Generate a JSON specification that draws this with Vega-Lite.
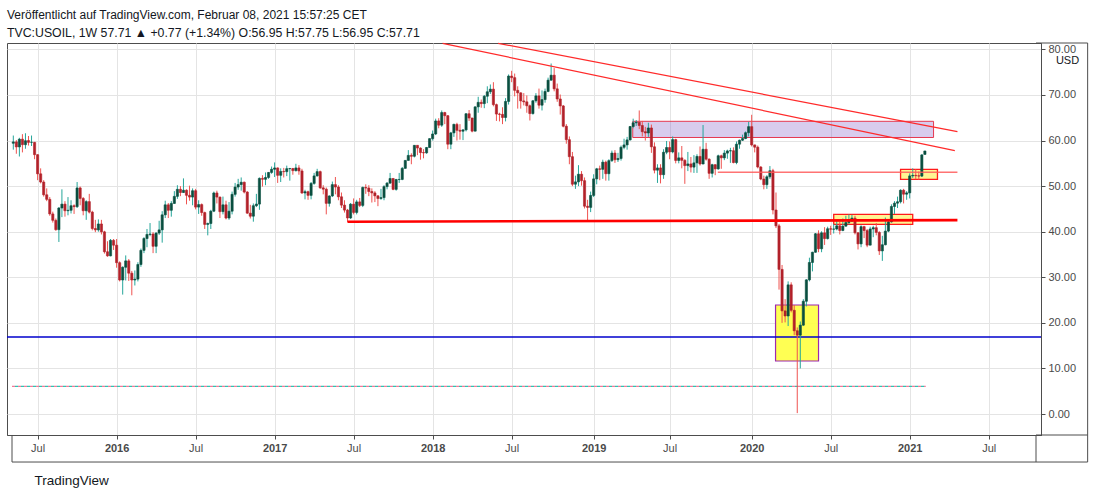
{
"$schema":"https://vega.github.io/schema/vega-lite/v6.json",
"width":1034,"height":392,
"autosize":"none",
"padding":{"left":7,"top":43,"right":59,"bottom":64},
"background":"white",
"config":{"view":{"stroke":"#4d4d4d","strokeWidth":1},"font":"Liberation Sans"},
"title":{"text":"Veröffentlicht auf TradingView.com, Februar 08, 2021 15:57:25 CET","subtitle":"TVC:USOIL, 1W 57.71 ▲ +0.77 (+1.34%) O:56.95 H:57.75 L:56.95 C:57.71","anchor":"start","frame":"group","font":"Liberation Sans","fontSize":12,"fontWeight":"normal","color":"#131722","subtitleFont":"Liberation Sans","subtitleFontSize":12.3,"subtitleColor":"#131722","offset":2,"subtitlePadding":5},
"datasets":{
"candles":[
{"d":"2015-05-11","o":59.4,"h":61.1,"l":58.0,"c":59.7},
{"d":"2015-05-18","o":59.7,"h":60.1,"l":57.1,"c":58.6},
{"d":"2015-05-25","o":58.6,"h":60.6,"l":56.5,"c":60.3},
{"d":"2015-06-01","o":60.3,"h":61.4,"l":57.4,"c":59.1},
{"d":"2015-06-08","o":59.1,"h":61.6,"l":58.2,"c":59.96},
{"d":"2015-06-15","o":60.0,"h":61.0,"l":58.9,"c":59.6},
{"d":"2015-06-22","o":59.6,"h":61.1,"l":58.8,"c":59.6},
{"d":"2015-06-29","o":59.6,"h":59.7,"l":55.9,"c":56.9},
{"d":"2015-07-06","o":56.9,"h":57.0,"l":51.3,"c":52.7},
{"d":"2015-07-13","o":52.7,"h":53.9,"l":50.6,"c":50.9},
{"d":"2015-07-20","o":50.9,"h":51.3,"l":47.7,"c":48.1},
{"d":"2015-07-27","o":48.1,"h":49.5,"l":46.7,"c":47.1},
{"d":"2015-08-03","o":47.1,"h":47.6,"l":43.5,"c":43.9},
{"d":"2015-08-10","o":43.9,"h":44.4,"l":42.0,"c":42.5},
{"d":"2015-08-17","o":42.5,"h":42.9,"l":40.2,"c":40.45},
{"d":"2015-08-24","o":40.45,"h":45.4,"l":37.75,"c":45.2},
{"d":"2015-08-31","o":45.2,"h":49.3,"l":43.2,"c":46.05},
{"d":"2015-09-07","o":46.05,"h":46.7,"l":43.3,"c":44.6},
{"d":"2015-09-14","o":44.6,"h":47.6,"l":43.6,"c":44.7},
{"d":"2015-09-21","o":44.7,"h":46.9,"l":44.0,"c":45.7},
{"d":"2015-09-28","o":45.7,"h":46.0,"l":43.9,"c":45.5},
{"d":"2015-10-05","o":45.5,"h":50.9,"l":45.2,"c":49.6},
{"d":"2015-10-12","o":49.6,"h":49.9,"l":45.8,"c":47.3},
{"d":"2015-10-19","o":47.3,"h":47.6,"l":43.6,"c":44.6},
{"d":"2015-10-26","o":44.6,"h":46.9,"l":42.6,"c":46.6},
{"d":"2015-11-02","o":46.6,"h":48.3,"l":44.0,"c":44.3},
{"d":"2015-11-09","o":44.3,"h":44.6,"l":40.3,"c":40.7},
{"d":"2015-11-16","o":40.7,"h":42.6,"l":39.9,"c":40.4},
{"d":"2015-11-23","o":40.4,"h":42.7,"l":40.0,"c":41.7},
{"d":"2015-11-30","o":41.7,"h":42.6,"l":39.4,"c":39.97},
{"d":"2015-12-07","o":39.97,"h":40.2,"l":35.2,"c":35.6},
{"d":"2015-12-14","o":35.6,"h":37.9,"l":34.5,"c":34.7},
{"d":"2015-12-21","o":34.7,"h":38.4,"l":34.6,"c":38.1},
{"d":"2015-12-28","o":38.1,"h":38.4,"l":36.0,"c":37.04},
{"d":"2016-01-04","o":37.04,"h":38.4,"l":32.1,"c":33.2},
{"d":"2016-01-11","o":33.2,"h":33.5,"l":29.1,"c":29.4},
{"d":"2016-01-18","o":29.4,"h":32.4,"l":26.2,"c":32.2},
{"d":"2016-01-25","o":32.2,"h":34.8,"l":29.3,"c":33.6},
{"d":"2016-02-01","o":33.6,"h":34.0,"l":29.2,"c":30.9},
{"d":"2016-02-08","o":30.9,"h":31.4,"l":26.05,"c":29.4},
{"d":"2016-02-15","o":29.4,"h":31.5,"l":28.2,"c":29.6},
{"d":"2016-02-22","o":29.6,"h":33.3,"l":29.1,"c":32.8},
{"d":"2016-02-29","o":32.8,"h":36.3,"l":32.3,"c":35.9},
{"d":"2016-03-07","o":35.9,"h":38.8,"l":35.3,"c":38.5},
{"d":"2016-03-14","o":38.5,"h":40.6,"l":36.6,"c":39.4},
{"d":"2016-03-21","o":39.4,"h":41.9,"l":39.0,"c":39.5},
{"d":"2016-03-28","o":39.5,"h":39.9,"l":35.3,"c":36.8},
{"d":"2016-04-04","o":36.8,"h":39.9,"l":35.3,"c":39.7},
{"d":"2016-04-11","o":39.7,"h":42.4,"l":39.3,"c":40.4},
{"d":"2016-04-18","o":40.4,"h":44.5,"l":37.6,"c":43.7},
{"d":"2016-04-25","o":43.7,"h":46.8,"l":43.0,"c":45.9},
{"d":"2016-05-02","o":45.9,"h":46.3,"l":43.0,"c":44.7},
{"d":"2016-05-09","o":44.7,"h":46.7,"l":43.3,"c":46.2},
{"d":"2016-05-16","o":46.2,"h":48.9,"l":46.1,"c":47.75},
{"d":"2016-05-23","o":47.75,"h":50.2,"l":47.2,"c":49.3},
{"d":"2016-05-30","o":49.3,"h":50.0,"l":47.8,"c":48.6},
{"d":"2016-06-06","o":48.6,"h":51.7,"l":48.5,"c":49.1},
{"d":"2016-06-13","o":49.1,"h":49.3,"l":46.0,"c":47.98},
{"d":"2016-06-20","o":47.98,"h":50.1,"l":46.8,"c":47.6},
{"d":"2016-06-27","o":47.6,"h":49.5,"l":45.8,"c":48.99},
{"d":"2016-07-04","o":48.99,"h":49.4,"l":44.9,"c":45.4},
{"d":"2016-07-11","o":45.4,"h":46.9,"l":43.9,"c":45.95},
{"d":"2016-07-18","o":45.95,"h":46.2,"l":43.5,"c":44.2},
{"d":"2016-07-25","o":44.2,"h":44.4,"l":40.6,"c":41.6},
{"d":"2016-08-01","o":41.6,"h":42.0,"l":39.2,"c":41.8},
{"d":"2016-08-08","o":41.8,"h":44.8,"l":40.6,"c":44.5},
{"d":"2016-08-15","o":44.5,"h":48.8,"l":44.3,"c":48.5},
{"d":"2016-08-22","o":48.5,"h":49.0,"l":46.2,"c":47.6},
{"d":"2016-08-29","o":47.6,"h":47.7,"l":43.0,"c":44.4},
{"d":"2016-09-05","o":44.4,"h":47.7,"l":43.8,"c":45.9},
{"d":"2016-09-12","o":45.9,"h":46.8,"l":42.7,"c":43.0},
{"d":"2016-09-19","o":43.0,"h":46.5,"l":42.6,"c":44.5},
{"d":"2016-09-26","o":44.5,"h":48.8,"l":43.8,"c":48.2},
{"d":"2016-10-03","o":48.2,"h":50.7,"l":47.7,"c":49.8},
{"d":"2016-10-10","o":49.8,"h":51.6,"l":49.2,"c":50.35},
{"d":"2016-10-17","o":50.35,"h":51.9,"l":49.0,"c":50.85},
{"d":"2016-10-24","o":50.85,"h":51.0,"l":48.4,"c":48.7},
{"d":"2016-10-31","o":48.7,"h":48.9,"l":43.9,"c":44.07},
{"d":"2016-11-07","o":44.07,"h":45.9,"l":42.9,"c":43.4},
{"d":"2016-11-14","o":43.4,"h":46.2,"l":42.2,"c":45.7},
{"d":"2016-11-21","o":45.7,"h":48.3,"l":45.4,"c":46.06},
{"d":"2016-11-28","o":46.06,"h":51.9,"l":44.8,"c":51.7},
{"d":"2016-12-05","o":51.7,"h":52.4,"l":49.9,"c":51.5},
{"d":"2016-12-12","o":51.5,"h":53.0,"l":50.2,"c":51.9},
{"d":"2016-12-19","o":51.9,"h":53.1,"l":51.6,"c":53.0},
{"d":"2016-12-26","o":53.0,"h":54.3,"l":52.7,"c":53.7},
{"d":"2017-01-02","o":53.7,"h":55.2,"l":52.0,"c":53.99},
{"d":"2017-01-09","o":53.99,"h":54.1,"l":50.7,"c":52.37},
{"d":"2017-01-16","o":52.37,"h":53.9,"l":50.9,"c":53.22},
{"d":"2017-01-23","o":53.22,"h":54.0,"l":51.9,"c":53.17},
{"d":"2017-01-30","o":53.17,"h":54.5,"l":52.2,"c":53.83},
{"d":"2017-02-06","o":53.83,"h":54.0,"l":51.2,"c":53.86},
{"d":"2017-02-13","o":53.86,"h":54.0,"l":52.5,"c":53.4},
{"d":"2017-02-20","o":53.4,"h":54.9,"l":53.2,"c":53.99},
{"d":"2017-02-27","o":53.99,"h":54.6,"l":52.5,"c":53.33},
{"d":"2017-03-06","o":53.33,"h":53.8,"l":48.3,"c":48.49},
{"d":"2017-03-13","o":48.49,"h":49.2,"l":47.1,"c":48.78},
{"d":"2017-03-20","o":48.78,"h":49.0,"l":47.0,"c":47.97},
{"d":"2017-03-27","o":47.97,"h":50.9,"l":47.1,"c":50.6},
{"d":"2017-04-03","o":50.6,"h":52.9,"l":50.3,"c":52.24},
{"d":"2017-04-10","o":52.24,"h":53.8,"l":52.1,"c":53.18},
{"d":"2017-04-17","o":53.18,"h":53.4,"l":49.4,"c":49.62},
{"d":"2017-04-24","o":49.62,"h":50.2,"l":48.2,"c":49.33},
{"d":"2017-05-01","o":49.33,"h":49.7,"l":43.8,"c":46.22},
{"d":"2017-05-08","o":46.22,"h":48.0,"l":45.5,"c":47.84},
{"d":"2017-05-15","o":47.84,"h":51.0,"l":47.6,"c":50.33},
{"d":"2017-05-22","o":50.33,"h":52.0,"l":48.2,"c":49.8},
{"d":"2017-05-29","o":49.8,"h":50.2,"l":46.9,"c":47.66},
{"d":"2017-06-05","o":47.66,"h":48.6,"l":45.2,"c":45.83},
{"d":"2017-06-12","o":45.83,"h":46.9,"l":44.2,"c":44.74},
{"d":"2017-06-19","o":44.74,"h":45.0,"l":42.1,"c":43.01},
{"d":"2017-06-26","o":43.01,"h":46.3,"l":42.8,"c":46.04},
{"d":"2017-07-03","o":46.04,"h":47.3,"l":43.8,"c":44.23},
{"d":"2017-07-10","o":44.23,"h":47.0,"l":43.8,"c":46.54},
{"d":"2017-07-17","o":46.54,"h":47.4,"l":45.4,"c":45.77},
{"d":"2017-07-24","o":45.77,"h":49.9,"l":45.4,"c":49.71},
{"d":"2017-07-31","o":49.71,"h":50.4,"l":48.3,"c":49.58},
{"d":"2017-08-07","o":49.58,"h":50.2,"l":47.8,"c":48.82},
{"d":"2017-08-14","o":48.82,"h":49.5,"l":46.4,"c":48.51},
{"d":"2017-08-21","o":48.51,"h":48.9,"l":46.5,"c":47.87},
{"d":"2017-08-28","o":47.87,"h":48.0,"l":45.6,"c":47.29},
{"d":"2017-09-04","o":47.29,"h":49.4,"l":47.0,"c":47.48},
{"d":"2017-09-11","o":47.48,"h":50.2,"l":46.9,"c":49.89},
{"d":"2017-09-18","o":49.89,"h":50.9,"l":49.3,"c":50.66},
{"d":"2017-09-25","o":50.66,"h":52.9,"l":50.5,"c":51.67},
{"d":"2017-10-02","o":51.67,"h":51.8,"l":49.1,"c":49.29},
{"d":"2017-10-09","o":49.29,"h":51.6,"l":49.0,"c":51.45},
{"d":"2017-10-16","o":51.45,"h":52.9,"l":50.7,"c":51.47},
{"d":"2017-10-23","o":51.47,"h":54.2,"l":51.3,"c":53.9},
{"d":"2017-10-30","o":53.9,"h":55.7,"l":53.8,"c":55.64},
{"d":"2017-11-06","o":55.64,"h":57.9,"l":55.6,"c":56.74},
{"d":"2017-11-13","o":56.74,"h":57.2,"l":54.8,"c":56.55},
{"d":"2017-11-20","o":56.55,"h":59.0,"l":56.3,"c":58.95},
{"d":"2017-11-27","o":58.95,"h":59.0,"l":56.8,"c":58.36},
{"d":"2017-12-04","o":58.36,"h":58.5,"l":55.8,"c":57.36},
{"d":"2017-12-11","o":57.36,"h":58.1,"l":56.1,"c":57.3},
{"d":"2017-12-18","o":57.3,"h":58.6,"l":57.1,"c":58.47},
{"d":"2017-12-25","o":58.47,"h":60.5,"l":58.4,"c":60.42},
{"d":"2018-01-01","o":60.42,"h":62.2,"l":60.0,"c":61.44},
{"d":"2018-01-08","o":61.44,"h":64.8,"l":61.2,"c":64.3},
{"d":"2018-01-15","o":64.3,"h":64.9,"l":62.7,"c":63.37},
{"d":"2018-01-22","o":63.37,"h":66.6,"l":63.0,"c":66.14},
{"d":"2018-01-29","o":66.14,"h":66.3,"l":63.6,"c":65.45},
{"d":"2018-02-05","o":65.45,"h":65.6,"l":58.1,"c":59.2},
{"d":"2018-02-12","o":59.2,"h":61.9,"l":58.1,"c":61.68},
{"d":"2018-02-19","o":61.68,"h":63.7,"l":60.8,"c":63.55},
{"d":"2018-02-26","o":63.55,"h":63.9,"l":60.0,"c":62.25},
{"d":"2018-03-05","o":62.25,"h":63.6,"l":60.2,"c":62.04},
{"d":"2018-03-12","o":62.04,"h":62.5,"l":60.1,"c":62.34},
{"d":"2018-03-19","o":62.34,"h":66.0,"l":62.0,"c":65.88},
{"d":"2018-03-26","o":65.88,"h":66.7,"l":64.3,"c":64.94},
{"d":"2018-04-02","o":64.94,"h":65.0,"l":61.8,"c":62.06},
{"d":"2018-04-09","o":62.06,"h":67.5,"l":62.0,"c":67.39},
{"d":"2018-04-16","o":67.39,"h":69.6,"l":66.1,"c":68.38},
{"d":"2018-04-23","o":68.38,"h":69.0,"l":67.2,"c":68.1},
{"d":"2018-04-30","o":68.1,"h":70.0,"l":67.1,"c":69.72},
{"d":"2018-05-07","o":69.72,"h":71.9,"l":68.2,"c":70.7},
{"d":"2018-05-14","o":70.7,"h":72.3,"l":70.2,"c":71.28},
{"d":"2018-05-21","o":71.28,"h":72.8,"l":67.5,"c":67.88},
{"d":"2018-05-28","o":67.88,"h":68.1,"l":64.3,"c":65.81},
{"d":"2018-06-04","o":65.81,"h":66.1,"l":64.2,"c":65.74},
{"d":"2018-06-11","o":65.74,"h":67.3,"l":63.6,"c":65.06},
{"d":"2018-06-18","o":65.06,"h":69.3,"l":64.2,"c":68.58},
{"d":"2018-06-25","o":68.58,"h":74.5,"l":67.9,"c":74.15},
{"d":"2018-07-02","o":74.15,"h":75.3,"l":72.8,"c":73.8},
{"d":"2018-07-09","o":73.8,"h":74.7,"l":69.7,"c":71.01},
{"d":"2018-07-16","o":71.01,"h":71.9,"l":67.0,"c":70.46},
{"d":"2018-07-23","o":70.46,"h":70.6,"l":67.0,"c":68.69},
{"d":"2018-07-30","o":68.69,"h":70.4,"l":67.7,"c":68.49},
{"d":"2018-08-06","o":68.49,"h":69.9,"l":66.1,"c":67.63},
{"d":"2018-08-13","o":67.63,"h":67.9,"l":64.4,"c":65.91},
{"d":"2018-08-20","o":65.91,"h":68.9,"l":65.7,"c":68.72},
{"d":"2018-08-27","o":68.72,"h":70.4,"l":68.3,"c":69.8},
{"d":"2018-09-03","o":69.8,"h":71.4,"l":67.0,"c":67.75},
{"d":"2018-09-10","o":67.75,"h":71.0,"l":66.6,"c":68.99},
{"d":"2018-09-17","o":68.99,"h":71.4,"l":68.3,"c":70.78},
{"d":"2018-09-24","o":70.78,"h":73.8,"l":70.6,"c":73.25},
{"d":"2018-10-01","o":73.25,"h":76.9,"l":73.1,"c":74.34},
{"d":"2018-10-08","o":74.34,"h":75.9,"l":70.8,"c":71.34},
{"d":"2018-10-15","o":71.34,"h":72.5,"l":68.5,"c":69.12},
{"d":"2018-10-22","o":69.12,"h":70.1,"l":65.7,"c":67.59},
{"d":"2018-10-29","o":67.59,"h":67.8,"l":62.9,"c":63.14},
{"d":"2018-11-05","o":63.14,"h":63.6,"l":59.3,"c":60.19},
{"d":"2018-11-12","o":60.19,"h":60.9,"l":54.8,"c":56.46},
{"d":"2018-11-19","o":56.46,"h":57.5,"l":50.0,"c":50.42},
{"d":"2018-11-26","o":50.42,"h":52.3,"l":49.4,"c":50.93},
{"d":"2018-12-03","o":50.93,"h":54.6,"l":50.0,"c":52.61},
{"d":"2018-12-10","o":52.61,"h":53.3,"l":50.1,"c":51.2},
{"d":"2018-12-17","o":51.2,"h":51.9,"l":45.1,"c":45.59},
{"d":"2018-12-24","o":45.59,"h":47.0,"l":42.36,"c":45.33},
{"d":"2018-12-31","o":45.33,"h":48.8,"l":44.3,"c":47.96},
{"d":"2019-01-07","o":47.96,"h":52.6,"l":47.6,"c":51.59},
{"d":"2019-01-14","o":51.59,"h":54.0,"l":50.4,"c":53.8},
{"d":"2019-01-21","o":53.8,"h":54.5,"l":51.3,"c":53.69},
{"d":"2019-01-28","o":53.69,"h":55.8,"l":51.6,"c":55.26},
{"d":"2019-02-04","o":55.26,"h":55.6,"l":51.2,"c":52.72},
{"d":"2019-02-11","o":52.72,"h":55.9,"l":51.2,"c":55.59},
{"d":"2019-02-18","o":55.59,"h":57.8,"l":55.3,"c":57.26},
{"d":"2019-02-25","o":57.26,"h":57.9,"l":55.1,"c":55.8},
{"d":"2019-03-04","o":55.8,"h":57.3,"l":55.3,"c":56.07},
{"d":"2019-03-11","o":56.07,"h":58.9,"l":55.6,"c":58.52},
{"d":"2019-03-18","o":58.52,"h":60.4,"l":58.1,"c":59.04},
{"d":"2019-03-25","o":59.04,"h":60.8,"l":58.0,"c":60.14},
{"d":"2019-04-01","o":60.14,"h":63.2,"l":60.0,"c":63.08},
{"d":"2019-04-08","o":63.08,"h":64.8,"l":62.7,"c":63.89},
{"d":"2019-04-15","o":63.89,"h":64.5,"l":63.2,"c":64.0},
{"d":"2019-04-22","o":64.0,"h":66.6,"l":62.5,"c":63.3},
{"d":"2019-04-29","o":63.3,"h":64.3,"l":60.9,"c":61.94},
{"d":"2019-05-06","o":61.94,"h":63.0,"l":60.0,"c":61.66},
{"d":"2019-05-13","o":61.66,"h":63.9,"l":60.8,"c":62.76},
{"d":"2019-05-20","o":62.76,"h":63.5,"l":57.3,"c":58.63},
{"d":"2019-05-27","o":58.63,"h":59.6,"l":52.8,"c":53.5},
{"d":"2019-06-03","o":53.5,"h":54.8,"l":50.7,"c":53.99},
{"d":"2019-06-10","o":53.99,"h":54.8,"l":50.6,"c":52.51},
{"d":"2019-06-17","o":52.51,"h":58.1,"l":51.6,"c":57.43},
{"d":"2019-06-24","o":57.43,"h":59.9,"l":57.0,"c":58.47},
{"d":"2019-07-01","o":58.47,"h":59.8,"l":55.9,"c":57.51},
{"d":"2019-07-08","o":57.51,"h":60.9,"l":57.2,"c":60.21},
{"d":"2019-07-15","o":60.21,"h":60.4,"l":55.0,"c":55.63},
{"d":"2019-07-22","o":55.63,"h":57.4,"l":55.0,"c":56.2},
{"d":"2019-07-29","o":56.2,"h":58.8,"l":53.9,"c":55.66},
{"d":"2019-08-05","o":55.66,"h":55.9,"l":50.5,"c":54.5},
{"d":"2019-08-12","o":54.5,"h":57.5,"l":53.3,"c":54.87},
{"d":"2019-08-19","o":54.87,"h":56.4,"l":53.0,"c":54.17},
{"d":"2019-08-26","o":54.17,"h":56.8,"l":52.9,"c":55.1},
{"d":"2019-09-02","o":55.1,"h":57.0,"l":52.9,"c":56.52},
{"d":"2019-09-09","o":56.52,"h":58.7,"l":54.5,"c":54.85},
{"d":"2019-09-16","o":54.85,"h":63.4,"l":54.8,"c":58.09},
{"d":"2019-09-23","o":58.09,"h":59.5,"l":55.6,"c":55.91},
{"d":"2019-09-30","o":55.91,"h":56.1,"l":51.6,"c":52.81},
{"d":"2019-10-07","o":52.81,"h":54.9,"l":51.9,"c":54.7},
{"d":"2019-10-14","o":54.7,"h":54.8,"l":52.4,"c":53.78},
{"d":"2019-10-21","o":53.78,"h":56.9,"l":53.6,"c":56.66},
{"d":"2019-10-28","o":56.66,"h":56.9,"l":53.8,"c":56.2},
{"d":"2019-11-04","o":56.2,"h":57.9,"l":55.7,"c":57.24},
{"d":"2019-11-11","o":57.24,"h":58.0,"l":56.0,"c":57.72},
{"d":"2019-11-18","o":57.72,"h":58.4,"l":55.1,"c":57.77},
{"d":"2019-11-25","o":57.77,"h":58.5,"l":55.0,"c":55.17},
{"d":"2019-12-02","o":55.17,"h":59.8,"l":54.8,"c":59.2},
{"d":"2019-12-09","o":59.2,"h":60.2,"l":58.2,"c":60.07},
{"d":"2019-12-16","o":60.07,"h":61.3,"l":59.9,"c":60.44},
{"d":"2019-12-23","o":60.44,"h":62.0,"l":60.3,"c":61.72},
{"d":"2019-12-30","o":61.72,"h":64.1,"l":60.9,"c":63.05},
{"d":"2020-01-06","o":63.05,"h":65.65,"l":58.7,"c":59.04},
{"d":"2020-01-13","o":59.04,"h":59.1,"l":57.4,"c":58.54},
{"d":"2020-01-20","o":58.54,"h":58.9,"l":53.9,"c":54.19},
{"d":"2020-01-27","o":54.19,"h":54.4,"l":51.3,"c":51.56},
{"d":"2020-02-03","o":51.56,"h":52.3,"l":49.3,"c":50.32},
{"d":"2020-02-10","o":50.32,"h":52.4,"l":49.4,"c":52.05},
{"d":"2020-02-17","o":52.05,"h":54.4,"l":51.6,"c":53.38},
{"d":"2020-02-24","o":53.38,"h":53.8,"l":43.8,"c":44.76},
{"d":"2020-03-02","o":44.76,"h":48.6,"l":40.8,"c":41.28},
{"d":"2020-03-09","o":41.28,"h":41.7,"l":27.3,"c":31.73},
{"d":"2020-03-16","o":31.73,"h":32.7,"l":20.0,"c":22.63},
{"d":"2020-03-23","o":22.63,"h":25.2,"l":20.1,"c":21.51},
{"d":"2020-03-30","o":21.51,"h":29.1,"l":19.3,"c":28.34},
{"d":"2020-04-06","o":28.34,"h":28.9,"l":22.3,"c":22.76},
{"d":"2020-04-13","o":22.76,"h":23.9,"l":17.3,"c":18.27},
{"d":"2020-04-20","o":18.27,"h":19.0,"l":0.2,"c":17.3},
{"d":"2020-04-27","o":17.3,"h":20.3,"l":10.0,"c":19.5},
{"d":"2020-05-04","o":19.5,"h":25.2,"l":19.3,"c":24.74},
{"d":"2020-05-11","o":24.74,"h":29.6,"l":23.6,"c":29.43},
{"d":"2020-05-18","o":29.43,"h":34.3,"l":29.1,"c":33.25},
{"d":"2020-05-25","o":33.25,"h":35.6,"l":31.3,"c":35.49},
{"d":"2020-06-01","o":35.49,"h":39.7,"l":35.4,"c":39.55},
{"d":"2020-06-08","o":39.55,"h":40.3,"l":35.5,"c":36.26},
{"d":"2020-06-15","o":36.26,"h":40.1,"l":35.5,"c":39.75},
{"d":"2020-06-22","o":39.75,"h":41.0,"l":37.1,"c":38.49},
{"d":"2020-06-29","o":38.49,"h":41.1,"l":38.3,"c":40.65},
{"d":"2020-07-06","o":40.65,"h":41.3,"l":39.3,"c":40.55},
{"d":"2020-07-13","o":40.55,"h":41.7,"l":39.6,"c":40.59},
{"d":"2020-07-20","o":40.59,"h":42.5,"l":40.3,"c":41.29},
{"d":"2020-07-27","o":41.29,"h":42.2,"l":39.4,"c":40.27},
{"d":"2020-08-03","o":40.27,"h":42.9,"l":40.1,"c":41.22},
{"d":"2020-08-10","o":41.22,"h":43.5,"l":41.1,"c":42.01},
{"d":"2020-08-17","o":42.01,"h":43.8,"l":41.6,"c":42.34},
{"d":"2020-08-24","o":42.34,"h":43.7,"l":42.1,"c":42.97},
{"d":"2020-08-31","o":42.97,"h":43.5,"l":39.4,"c":39.77},
{"d":"2020-09-07","o":39.77,"h":39.9,"l":36.1,"c":37.33},
{"d":"2020-09-14","o":37.33,"h":41.4,"l":36.6,"c":41.11},
{"d":"2020-09-21","o":41.11,"h":41.3,"l":38.6,"c":40.25},
{"d":"2020-09-28","o":40.25,"h":40.6,"l":36.6,"c":37.05},
{"d":"2020-10-05","o":37.05,"h":41.1,"l":37.0,"c":40.6},
{"d":"2020-10-12","o":40.6,"h":41.3,"l":38.8,"c":40.88},
{"d":"2020-10-19","o":40.88,"h":41.9,"l":39.2,"c":39.85},
{"d":"2020-10-26","o":39.85,"h":40.1,"l":34.9,"c":35.79},
{"d":"2020-11-02","o":35.79,"h":39.1,"l":33.6,"c":37.14},
{"d":"2020-11-09","o":37.14,"h":43.1,"l":37.0,"c":40.13},
{"d":"2020-11-16","o":40.13,"h":42.5,"l":39.9,"c":42.15},
{"d":"2020-11-23","o":42.15,"h":46.0,"l":42.0,"c":45.53},
{"d":"2020-11-30","o":45.53,"h":46.7,"l":43.9,"c":46.26},
{"d":"2020-12-07","o":46.26,"h":47.7,"l":45.2,"c":46.57},
{"d":"2020-12-14","o":46.57,"h":49.3,"l":46.2,"c":49.1},
{"d":"2020-12-21","o":49.1,"h":49.4,"l":46.2,"c":48.23},
{"d":"2020-12-28","o":48.23,"h":48.9,"l":47.0,"c":48.52},
{"d":"2021-01-04","o":48.52,"h":52.8,"l":47.3,"c":52.24},
{"d":"2021-01-11","o":52.24,"h":53.9,"l":51.8,"c":52.36},
{"d":"2021-01-18","o":52.36,"h":53.7,"l":51.5,"c":52.27},
{"d":"2021-01-25","o":52.27,"h":53.2,"l":51.4,"c":52.2},
{"d":"2021-02-01","o":52.2,"h":57.0,"l":52.0,"c":56.85},
{"d":"2021-02-08","o":56.95,"h":57.75,"l":56.95,"c":57.71}
]
},
"layer":[
{"data":{"values":[{"d":"2019-04-07","d2":"2021-02-28","p":64.22,"p2":60.67}]},
 "mark":{"type":"rect","fill":"#7e57c2","fillOpacity":0.3,"stroke":"#e53950","strokeWidth":1},
 "encoding":{"x":{"field":"d","type":"temporal"},"x2":{"field":"d2"},"y":{"field":"p","type":"quantitative"},"y2":{"field":"p2"}}},
{"data":{"values":[{"d":"2020-03-01","d2":"2020-06-08","p":23.92,"p2":11.63}]},
 "mark":{"type":"rect","fill":"#ffff40","fillOpacity":0.9,"stroke":"#9c27b0","strokeWidth":1.2},
 "encoding":{"x":{"field":"d","type":"temporal"},"x2":{"field":"d2"},"y":{"field":"p","type":"quantitative"},"y2":{"field":"p2"}}},
{"data":{"values":[{"d":"2020-07-13","d2":"2021-01-11","p":43.82,"p2":41.63},{"d":"2020-12-14","d2":"2021-03-09","p":53.69,"p2":51.5}]},
 "mark":{"type":"rect","fill":"#ffeb3b","fillOpacity":0.55,"stroke":"#ff1a1a","strokeWidth":1.3},
 "encoding":{"x":{"field":"d","type":"temporal"},"x2":{"field":"d2"},"y":{"field":"p","type":"quantitative"},"y2":{"field":"p2"}}},
{"data":{"values":[{"p":16.9}]},
 "mark":{"type":"rule","color":"#0000cc","strokeWidth":1.3},
 "encoding":{"y":{"field":"p","type":"quantitative"}}},
{"data":{"values":[{"d":"2015-05-08","d2":"2021-02-10","p":6.08}]},
 "mark":{"type":"rule","color":"#f27a99","strokeWidth":1.2,"strokeDash":[3,3]},
 "encoding":{"x":{"field":"d","type":"temporal"},"x2":{"field":"d2"},"y":{"field":"p","type":"quantitative"}}},
{"data":{"values":[{"d":"2015-05-08","d2":"2021-02-10","p":6.08}]},
 "mark":{"type":"rule","color":"#2fc4b2","strokeWidth":1.2,"strokeDash":[3,3],"strokeDashOffset":3},
 "encoding":{"x":{"field":"d","type":"temporal"},"x2":{"field":"d2"},"y":{"field":"p","type":"quantitative"}}},
{"data":{"name":"candles"},
 "mark":{"type":"rule","strokeWidth":1,"clip":true},
 "encoding":{
  "x":{"field":"d","type":"temporal",
   "scale":{"type":"utc","domain":[{"year":2015,"month":5,"date":8,"utc":true},{"year":2021,"month":10,"date":22,"utc":true}]},
   "axis":{"title":"TradingView","titleAnchor":"start","titleAlign":"left","titleX":27,"titleY":45,"titleBaseline":"middle","titleFontSize":13.5,"titleFontWeight":"normal","titleColor":"#131722","titleFont":"Liberation Sans",
    "values":[{"year":2015,"month":7,"date":6,"utc":true},{"year":2016,"month":1,"date":4,"utc":true},{"year":2016,"month":7,"date":4,"utc":true},{"year":2017,"month":1,"date":2,"utc":true},{"year":2017,"month":7,"date":3,"utc":true},{"year":2018,"month":1,"date":1,"utc":true},{"year":2018,"month":7,"date":2,"utc":true},{"year":2019,"month":1,"date":7,"utc":true},{"year":2019,"month":7,"date":1,"utc":true},{"year":2020,"month":1,"date":6,"utc":true},{"year":2020,"month":7,"date":6,"utc":true},{"year":2021,"month":1,"date":4,"utc":true},{"year":2021,"month":7,"date":5,"utc":true}],
    "labelExpr":"utcFormat(datum.value,'%m')=='01' ? utcFormat(datum.value,'%Y') : 'Jul'",
    "labelFontWeight":{"condition":{"test":"utcFormat(datum.value,'%m')=='01'","value":"bold"},"value":"normal"},
    "labelFontSize":11,"labelColor":"#4a4a4a","labelFont":"Liberation Sans","labelPadding":3,"labelOverlap":false,"labelFlush":false,
    "tickSize":4,"tickColor":"#4d4d4d","domainColor":"#4d4d4d","grid":true,"gridColor":"#e4e4e4"}},
  "y":{"field":"l","type":"quantitative",
   "scale":{"domain":[-4.6,81.4],"zero":false,"nice":false},
   "axis":{"orient":"right","title":"USD","titleAngle":0,"titleX":26,"titleY":17,"titleAlign":"center","titleBaseline":"middle","titleFontSize":11,"titleFontWeight":"normal","titleColor":"#131722","titleFont":"Liberation Sans",
    "values":[0,10,20,30,40,50,60,70,80],"format":".2f","labelFontSize":11,"labelColor":"#4a4a4a","labelFont":"Liberation Sans","labelPadding":3,"labelFlush":false,"labelOverlap":false,
    "tickSize":4,"tickColor":"#4d4d4d","domainColor":"#4d4d4d","grid":true,"gridColor":"#e4e4e4"}},
  "y2":{"field":"h"},
  "color":{"condition":{"test":"datum.c >= datum.o","value":"#26a69a"},"value":"#ef5350"}}},
{"data":{"name":"candles"},
 "mark":{"type":"bar","width":2.2,"strokeWidth":0.6,"clip":true},
 "encoding":{
  "x":{"field":"d","type":"temporal"},
  "y":{"field":"o","type":"quantitative"},
  "y2":{"field":"c"},
  "fill":{"condition":{"test":"datum.c >= datum.o","value":"#0a4f40"},"value":"#b2212a"},
  "stroke":{"condition":{"test":"datum.c >= datum.o","value":"#0a4f40"},"value":"#b2212a"}}},
{"data":{"values":[{"d":"2017-06-19","d2":"2021-04-24","p":42.2,"p2":42.55}]},
 "mark":{"type":"rule","color":"#ff0000","strokeWidth":2.6},
 "encoding":{"x":{"field":"d","type":"temporal"},"x2":{"field":"d2"},"y":{"field":"p","type":"quantitative"},"y2":{"field":"p2"}}},
{"data":{"values":[{"d":"2019-10-20","d2":"2021-04-24","p":53.03}]},
 "mark":{"type":"rule","color":"#ff5a5a","strokeWidth":1.6,"opacity":0.85},
 "encoding":{"x":{"field":"d","type":"temporal"},"x2":{"field":"d2"},"y":{"field":"p","type":"quantitative"}}},
{"data":{"values":[{"d":"2018-01-24","d2":"2021-04-18","p":81.33,"p2":57.77},{"d":"2018-06-01","d2":"2021-04-24","p":81.33,"p2":61.94}]},
 "mark":{"type":"rule","color":"#ff2a2a","strokeWidth":1.2},
 "encoding":{"x":{"field":"d","type":"temporal"},"x2":{"field":"d2"},"y":{"field":"p","type":"quantitative"},"y2":{"field":"p2"}}},
{"data":{"values":[
  {"d":"2015-05-08","d2":"2022-02-18","p":-10.53,"p2":-10.53},
  {"d":"2022-02-18","d2":"2022-02-18","p":-10.53,"p2":81.4},
  {"d":"2021-10-22","d2":"2022-02-18","p":81.4,"p2":81.4},
  {"d":"2021-10-22","d2":"2022-02-18","p":-4.6,"p2":-4.6},
  {"d":"2015-05-08","d2":"2015-05-08","p":-10.53,"p2":-4.6},
  {"d":"2021-10-22","d2":"2021-10-22","p":-10.53,"p2":-4.6}]},
 "mark":{"type":"rule","color":"#4d4d4d","strokeWidth":1},
 "encoding":{"x":{"field":"d","type":"temporal"},"x2":{"field":"d2"},"y":{"field":"p","type":"quantitative"},"y2":{"field":"p2"}}}
]
}
